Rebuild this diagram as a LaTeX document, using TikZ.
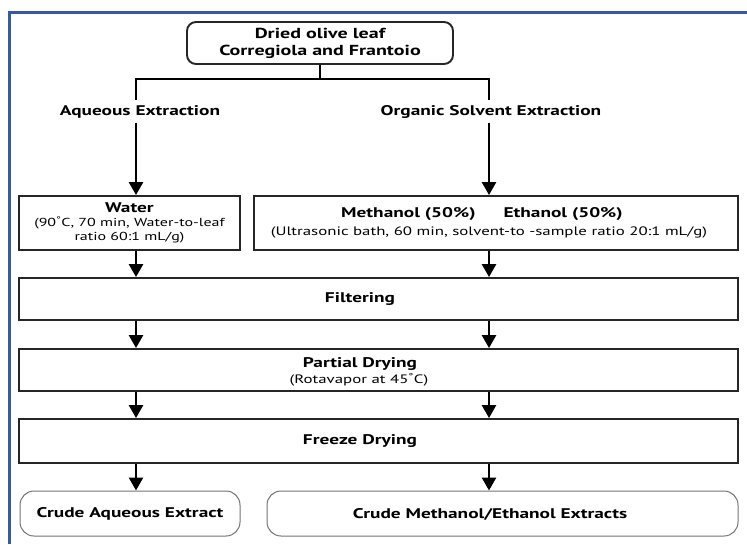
\documentclass[tikz,border=0pt]{standalone}
\usepackage{fontspec}
\setsansfont[FakeStretch=1.38]{PT Sans}
\usetikzlibrary{arrows.meta}
\definecolor{frameblue}{RGB}{56,90,160}

\begin{document}
\begin{tikzpicture}[x=1pt,y=-1pt,
  box/.style={draw=black!85,line width=1.9pt,inner sep=0pt},
  endbox/.style={draw=black!55,line width=1pt,rounded corners=14pt,inner sep=0pt},
  hd/.style={font=\sffamily\bfseries\fontsize{14}{17}\selectfont,align=center,inner sep=0pt},
  sub/.style={font=\sffamily\fontsize{12.2}{14}\selectfont,align=center,inner sep=0pt},
  link/.style={line width=2.2pt},
  arr/.style={line width=2.6pt,-{Triangle[width=14pt,length=13pt]}}]
\useasboundingbox (0,0) rectangle (747,544);
\draw[frameblue,line width=3pt] (9,544) -- (9,12) -- (747,12);

\node[box,hd,font=\sffamily\bfseries\fontsize{14.5}{17}\selectfont,rounded corners=9pt,minimum width=266pt,minimum height=42pt] (leaf) at (320,43) {Dried olive leaf\\Corregiola and Frantoio};
\coordinate (barL) at (136,79);
\coordinate (barR) at (489,79);
\coordinate (dropL) at (136,100);
\coordinate (dropR) at (489,100);
\draw[link] (leaf.south) -- (leaf.south |- barL);
\draw[link] (dropL) -- (barL) -- (barR) -- (dropR);

\node[hd] (aqueous) at (140,112) {Aqueous Extraction};
\node[hd] (organic) at (491,112) {Organic Solvent Extraction};

\node[box,sub,font=\sffamily\fontsize{11.6}{14}\selectfont,minimum width=221pt,minimum height=54pt] (water) at (129.5,223) {{\bfseries\fontsize{14}{14}\selectfont Water}\\(90\textsuperscript{°}C, 70 min, Water-to-leaf\\ratio 60:1 mL/g)};
\node[box,minimum width=484pt,minimum height=54pt] (solvent) at (496,223) {};
\node[hd] (solventHd) at (482,214) {Methanol (50\%)\hspace{28pt}Ethanol (50\%)};
\node[sub] (solventSub) at (489,232) {(Ultrasonic bath, 60 min, solvent-to -sample ratio 20:1 mL/g)};

\node[box,minimum width=719pt,minimum height=42pt] (filter) at (378.5,299) {};
\node[hd] (filterTxt) at (360,299) {Filtering};
\node[box,minimum width=719pt,minimum height=42pt] (partial) at (378.5,370) {};
\node[hd] (partialTxt) at (360,364) {Partial Drying};
\node[sub] (partialSub) at (359,380) {(Rotavapor at 45\textsuperscript{°}C)};
\node[box,minimum width=719pt,minimum height=44pt] (freeze) at (378.5,441) {};
\node[hd] (freezeTxt) at (360,441) {Freeze Drying};
\node[endbox,hd,minimum width=220pt,minimum height=45pt] (crudeAq) at (130,513.5) {Crude Aqueous Extract};
\node[endbox,minimum width=471pt,minimum height=45pt] (crudeOrg) at (502.5,513.5) {};
\node[hd] (crudeOrgTxt) at (490,514) {Crude Methanol/Ethanol Extracts};

\draw[arr,shorten <=4pt] (aqueous.south -| dropL) -- (water.north -| dropL);
\draw[arr,shorten <=4pt] (organic.south -| dropR) -- (solvent.north -| dropR);
\foreach \a/\b/\c in {water/filter/dropL, solvent/filter/dropR, filter/partial/dropL, filter/partial/dropR, partial/freeze/dropL, partial/freeze/dropR, freeze/crudeAq/dropL, freeze/crudeOrg/dropR}
  \draw[arr] (\a.south -| \c) -- (\b.north -| \c);
\end{tikzpicture}
\end{document}
